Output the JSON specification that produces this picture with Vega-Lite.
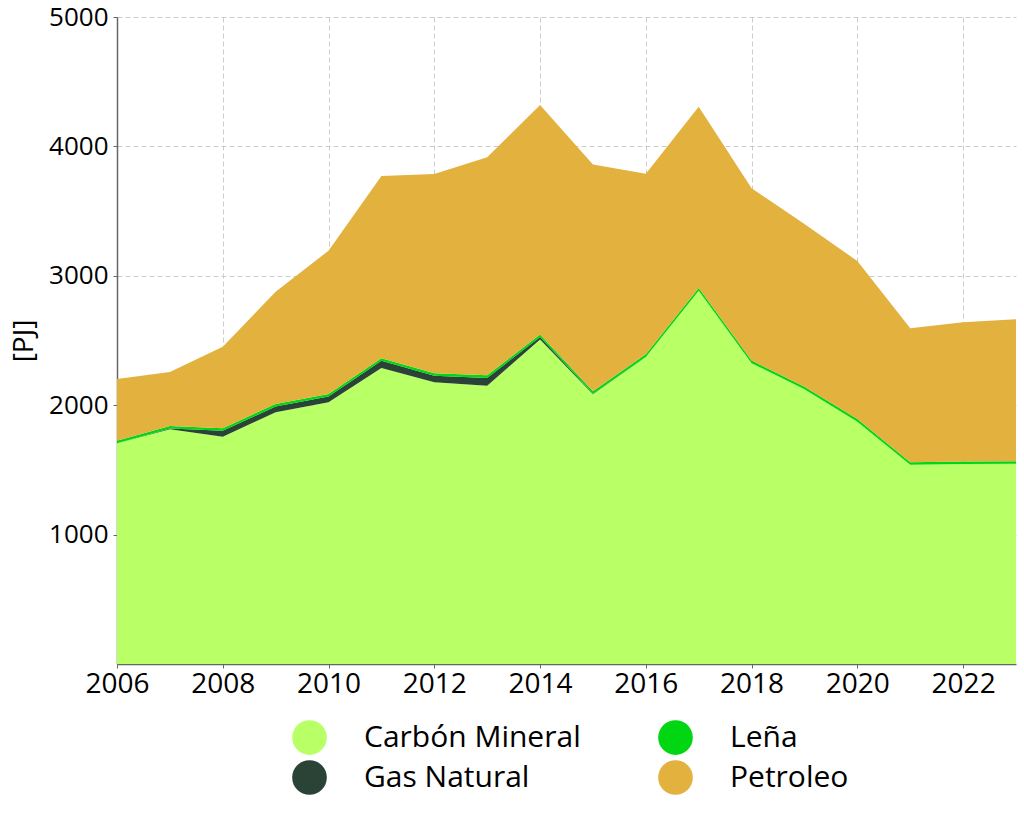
{
  "$schema": "https://vega.github.io/schema/vega-lite/v6.json",
  "width": 899,
  "height": 647,
  "padding": {"left": 117, "top": 17, "right": 8, "bottom": 151},
  "autosize": {"type": "none"},
  "background": "white",
  "config": {
    "view": {"stroke": null},
    "font": "Open Sans"
  },
  "data": {
    "values": [
      {"year": 2006, "fuente": "Carbón Mineral", "value": 1705},
      {"year": 2006, "fuente": "Gas Natural", "value": 0},
      {"year": 2006, "fuente": "Leña", "value": 20},
      {"year": 2006, "fuente": "Petroleo", "value": 477},
      {"year": 2007, "fuente": "Carbón Mineral", "value": 1815},
      {"year": 2007, "fuente": "Gas Natural", "value": 5},
      {"year": 2007, "fuente": "Leña", "value": 20},
      {"year": 2007, "fuente": "Petroleo", "value": 417},
      {"year": 2008, "fuente": "Carbón Mineral", "value": 1757},
      {"year": 2008, "fuente": "Gas Natural", "value": 45},
      {"year": 2008, "fuente": "Leña", "value": 20},
      {"year": 2008, "fuente": "Petroleo", "value": 630},
      {"year": 2009, "fuente": "Carbón Mineral", "value": 1945},
      {"year": 2009, "fuente": "Gas Natural", "value": 45},
      {"year": 2009, "fuente": "Leña", "value": 20},
      {"year": 2009, "fuente": "Petroleo", "value": 867},
      {"year": 2010, "fuente": "Carbón Mineral", "value": 2022},
      {"year": 2010, "fuente": "Gas Natural", "value": 45},
      {"year": 2010, "fuente": "Leña", "value": 20},
      {"year": 2010, "fuente": "Petroleo", "value": 1107},
      {"year": 2011, "fuente": "Carbón Mineral", "value": 2288},
      {"year": 2011, "fuente": "Gas Natural", "value": 55},
      {"year": 2011, "fuente": "Leña", "value": 20},
      {"year": 2011, "fuente": "Petroleo", "value": 1408},
      {"year": 2012, "fuente": "Carbón Mineral", "value": 2177},
      {"year": 2012, "fuente": "Gas Natural", "value": 50},
      {"year": 2012, "fuente": "Leña", "value": 20},
      {"year": 2012, "fuente": "Petroleo", "value": 1540},
      {"year": 2013, "fuente": "Carbón Mineral", "value": 2151},
      {"year": 2013, "fuente": "Gas Natural", "value": 60},
      {"year": 2013, "fuente": "Leña", "value": 20},
      {"year": 2013, "fuente": "Petroleo", "value": 1685},
      {"year": 2014, "fuente": "Carbón Mineral", "value": 2507},
      {"year": 2014, "fuente": "Gas Natural", "value": 20},
      {"year": 2014, "fuente": "Leña", "value": 20},
      {"year": 2014, "fuente": "Petroleo", "value": 1773},
      {"year": 2015, "fuente": "Carbón Mineral", "value": 2085},
      {"year": 2015, "fuente": "Gas Natural", "value": 3},
      {"year": 2015, "fuente": "Leña", "value": 20},
      {"year": 2015, "fuente": "Petroleo", "value": 1753},
      {"year": 2016, "fuente": "Carbón Mineral", "value": 2373},
      {"year": 2016, "fuente": "Gas Natural", "value": 0},
      {"year": 2016, "fuente": "Leña", "value": 20},
      {"year": 2016, "fuente": "Petroleo", "value": 1396},
      {"year": 2017, "fuente": "Carbón Mineral", "value": 2885},
      {"year": 2017, "fuente": "Gas Natural", "value": 0},
      {"year": 2017, "fuente": "Leña", "value": 20},
      {"year": 2017, "fuente": "Petroleo", "value": 1402},
      {"year": 2018, "fuente": "Carbón Mineral", "value": 2325},
      {"year": 2018, "fuente": "Gas Natural", "value": 0},
      {"year": 2018, "fuente": "Leña", "value": 20},
      {"year": 2018, "fuente": "Petroleo", "value": 1331},
      {"year": 2019, "fuente": "Carbón Mineral", "value": 2123},
      {"year": 2019, "fuente": "Gas Natural", "value": 0},
      {"year": 2019, "fuente": "Leña", "value": 20},
      {"year": 2019, "fuente": "Petroleo", "value": 1257},
      {"year": 2020, "fuente": "Carbón Mineral", "value": 1873},
      {"year": 2020, "fuente": "Gas Natural", "value": 0},
      {"year": 2020, "fuente": "Leña", "value": 20},
      {"year": 2020, "fuente": "Petroleo", "value": 1221},
      {"year": 2021, "fuente": "Carbón Mineral", "value": 1540},
      {"year": 2021, "fuente": "Gas Natural", "value": 0},
      {"year": 2021, "fuente": "Leña", "value": 20},
      {"year": 2021, "fuente": "Petroleo", "value": 1034},
      {"year": 2022, "fuente": "Carbón Mineral", "value": 1545},
      {"year": 2022, "fuente": "Gas Natural", "value": 0},
      {"year": 2022, "fuente": "Leña", "value": 20},
      {"year": 2022, "fuente": "Petroleo", "value": 1076},
      {"year": 2023, "fuente": "Carbón Mineral", "value": 1547},
      {"year": 2023, "fuente": "Gas Natural", "value": 0},
      {"year": 2023, "fuente": "Leña", "value": 20},
      {"year": 2023, "fuente": "Petroleo", "value": 1097}
    ]
  },
  "transform": [
    {"calculate": "indexof(['Carbón Mineral','Gas Natural','Leña','Petroleo'], datum.fuente)", "as": "orden"}
  ],
  "mark": {"type": "area", "opacity": 1},
  "encoding": {
    "x": {
      "field": "year",
      "type": "quantitative",
      "scale": {"domain": [2006, 2023], "nice": false, "zero": false},
      "axis": {
        "title": null,
        "values": [2006, 2008, 2010, 2012, 2014, 2016, 2018, 2020, 2022],
        "format": "d",
        "labelFont": "Open Sans",
        "labelFontSize": 28,
        "labelColor": "#000",
        "labelPadding": 2,
        "tickSize": 4,
        "tickColor": "#666",
        "domainColor": "#666",
        "domainWidth": 1.5,
        "grid": true,
        "gridColor": "#cccccc",
        "gridDash": [5, 3],
        "gridWidth": 1,
        "labelFlush": false
      }
    },
    "y": {
      "field": "value",
      "type": "quantitative",
      "stack": "zero",
      "scale": {"domain": [0, 5000], "nice": false},
      "axis": {
        "title": "[PJ]",
        "titleFontSize": 28,
        "titleFontWeight": "normal",
        "titleFont": "Open Sans",
        "titleColor": "#000",
        "titlePadding": 10,
        "values": [1000, 2000, 3000, 4000, 5000],
        "format": "d",
        "labelFont": "Open Sans",
        "labelFontSize": 26,
        "labelColor": "#000",
        "labelPadding": 5,
        "tickSize": 4,
        "tickColor": "#666",
        "domainColor": "#666",
        "domainWidth": 1.5,
        "grid": true,
        "gridColor": "#cccccc",
        "gridDash": [5, 3],
        "gridWidth": 1
      }
    },
    "color": {
      "field": "fuente",
      "type": "nominal",
      "scale": {
        "domain": ["Carbón Mineral", "Leña", "Gas Natural", "Petroleo"],
        "range": ["#b9ff66", "#00d612", "#2b4237", "#e2b13e"]
      },
      "legend": {
        "title": null,
        "orient": "none",
        "legendX": 175,
        "legendY": 703,
        "direction": "horizontal",
        "columns": 2,
        "symbolType": "circle",
        "symbolSize": 1200,
        "symbolStrokeWidth": 0,
        "symbolOpacity": 1,
        "labelFontSize": 30,
        "labelFont": "Open Sans",
        "labelColor": "#000",
        "labelOffset": 37,
        "columnPadding": 77,
        "rowPadding": 5,
        "labelLimit": 400
      }
    },
    "order": {"field": "orden", "type": "quantitative", "sort": "ascending"}
  }
}
